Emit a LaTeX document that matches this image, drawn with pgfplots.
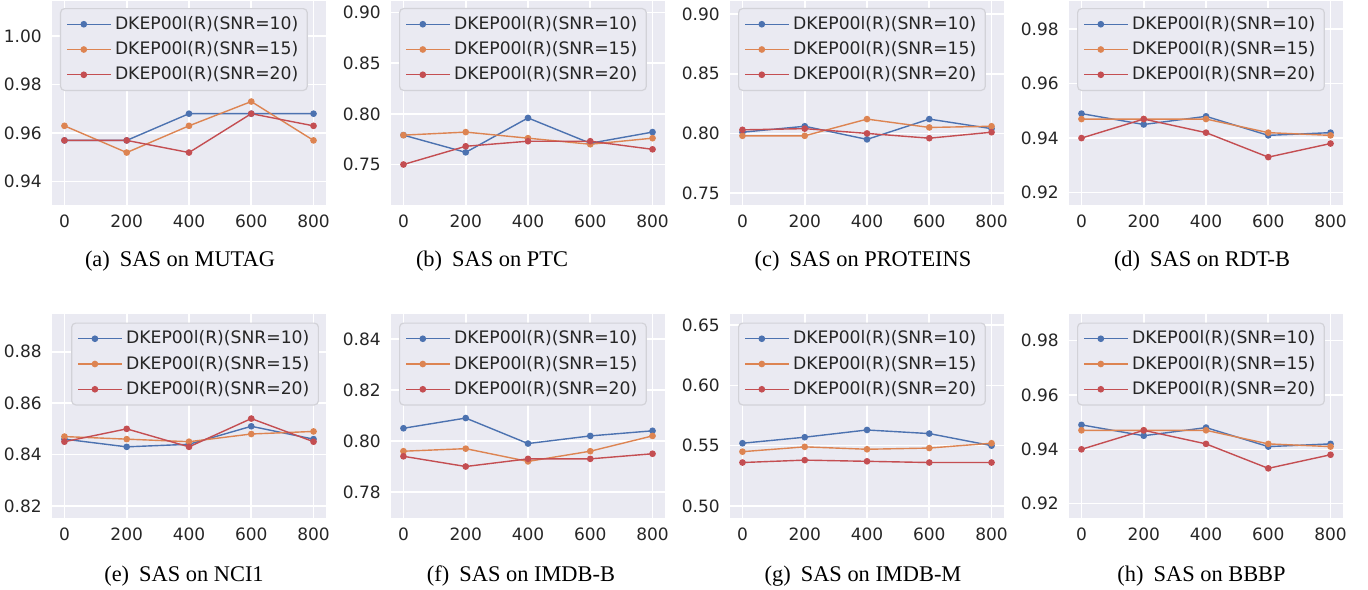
\documentclass[border=0pt]{standalone}
\usepackage{fontspec}
\setmainfont{Liberation Serif}
\newfontfamily\dejavu{DejaVu Sans}
\usepackage{pgfplots}
\pgfplotsset{compat=1.18}
\definecolor{bgc}{HTML}{EAEAF2}
\definecolor{tkc}{HTML}{262626}
\definecolor{lgc}{HTML}{D2D2D8}
\definecolor{sblue}{HTML}{4C72B0}
\definecolor{sorange}{HTML}{DD8452}
\definecolor{sred}{HTML}{C44E52}
\pgfplotsset{
  sas/.style={
    scale only axis, width=137pt, height=102pt,
    xmin=-40, xmax=840, xtick={0,200,400,600,800},
    axis background/.style={fill=bgc},
    grid=major, major grid style={white, line width=0.8pt},
    axis line style={draw=none}, major tick length=0pt,
    tick label style={font=\dejavu\fontsize{8.5}{10}\selectfont, text=tkc},
    /pgf/number format/assume math mode=true,
    yticklabel style={/pgf/number format/.cd, fixed, fixed zerofill, precision=2, /tikz/.cd, xshift=-1.6pt},
    xticklabel style={yshift=-1.6pt},
    legend cell align=left,
    legend style={draw=lgc, fill=bgc, rounded corners=2pt, line width=0.6pt,
      font=\dejavu\fontsize{8.6}{10}\selectfont, text=tkc,
      inner xsep=3pt, inner ysep=3pt, row sep=3pt,
      nodes={inner xsep=1.5pt, inner ysep=0.8pt}},
    legend image code/.code={
      \draw[mark repeat=2,mark phase=2,##1] plot coordinates {(0pt,0pt) (8.25pt,0pt) (16.5pt,0pt)};
      \path (0pt,0pt) -- (22pt,0pt);},
    every axis plot/.append style={line width=0.7pt, mark=*, mark size=1.3pt},
    legend style={at={(0,1)}, anchor=north west, xshift=4pt, yshift=-3.5pt},
  },
  sb/.style={color=sblue, mark options={fill=sblue, draw=sblue}},
  so/.style={color=sorange, mark options={fill=sorange, draw=sorange}},
  sr/.style={color=sred, mark options={fill=sred, draw=sred}},
}
\newcommand{\leg}{\legend{DKEP00l(R)(SNR=10),DKEP00l(R)(SNR=15),DKEP00l(R)(SNR=20)}}
\newcommand{\subcap}[3]{\node[anchor=base, font=\fontsize{11.2}{13}\selectfont, text=black] at (#1*0.5pt, #2*0.5pt) {#3};}
\begin{document}
\begin{tikzpicture}
\useasboundingbox (0,0) rectangle (684pt,294.5pt);
% (a) MUTAG
\begin{axis}[sas, at={(26pt,192pt)}, anchor=south west, ymin=0.9304, ymax=1.0144, ytick={0.94,0.96,0.98,1.00}]
\addplot[sb] coordinates {(0,0.957) (200,0.957) (400,0.968) (600,0.968) (800,0.968)};
\addplot[so] coordinates {(0,0.963) (200,0.952) (400,0.963) (600,0.973) (800,0.957)};
\addplot[sr] coordinates {(0,0.957) (200,0.957) (400,0.952) (600,0.968) (800,0.963)};
\leg
\end{axis}
% (b) PTC
\begin{axis}[sas, at={(195.5pt,192pt)}, anchor=south west, ymin=0.71, ymax=0.9115, ytick={0.75,0.80,0.85,0.90}]
\addplot[sb] coordinates {(0,0.779) (200,0.762) (400,0.796) (600,0.771) (800,0.782)};
\addplot[so] coordinates {(0,0.779) (200,0.782) (400,0.776) (600,0.770) (800,0.776)};
\addplot[sr] coordinates {(0,0.750) (200,0.768) (400,0.773) (600,0.773) (800,0.765)};
\leg
\end{axis}
% (c) PROTEINS
\begin{axis}[sas, at={(365pt,192pt)}, anchor=south west, ymin=0.740, ymax=0.911, ytick={0.75,0.80,0.85,0.90}]
\addplot[sb] coordinates {(0,0.801) (200,0.806) (400,0.795) (600,0.812) (800,0.804)};
\addplot[so] coordinates {(0,0.798) (200,0.798) (400,0.812) (600,0.805) (800,0.806)};
\addplot[sr] coordinates {(0,0.803) (200,0.804) (400,0.800) (600,0.796) (800,0.801)};
\leg
\end{axis}
% (d) RDT-B
\begin{axis}[sas, at={(534.5pt,192pt)}, anchor=south west, ymin=0.9154, ymax=0.9904, ytick={0.92,0.94,0.96,0.98}]
\addplot[sb] coordinates {(0,0.949) (200,0.945) (400,0.948) (600,0.941) (800,0.942)};
\addplot[so] coordinates {(0,0.947) (200,0.947) (400,0.947) (600,0.942) (800,0.941)};
\addplot[sr] coordinates {(0,0.940) (200,0.947) (400,0.942) (600,0.933) (800,0.938)};
\leg
\end{axis}
% (e) NCI1
\begin{axis}[sas, at={(26pt,35.75pt)}, anchor=south west, ymin=0.8155, ymax=0.8949, ytick={0.82,0.84,0.86,0.88},
  legend style={at={(1,1)}, anchor=north east, xshift=-7.5pt, yshift=-1pt}]
\addplot[sb] coordinates {(0,0.846) (200,0.843) (400,0.844) (600,0.851) (800,0.846)};
\addplot[so] coordinates {(0,0.847) (200,0.846) (400,0.845) (600,0.848) (800,0.849)};
\addplot[sr] coordinates {(0,0.845) (200,0.850) (400,0.843) (600,0.854) (800,0.845)};
\leg
\end{axis}
% (f) IMDB-B
\begin{axis}[sas, at={(195.5pt,35.75pt)}, anchor=south west, ymin=0.770, ymax=0.850, ytick={0.78,0.80,0.82,0.84},
  legend style={yshift=-1pt}]
\addplot[sb] coordinates {(0,0.805) (200,0.809) (400,0.799) (600,0.802) (800,0.804)};
\addplot[so] coordinates {(0,0.796) (200,0.797) (400,0.792) (600,0.796) (800,0.802)};
\addplot[sr] coordinates {(0,0.794) (200,0.790) (400,0.793) (600,0.793) (800,0.795)};
\leg
\end{axis}
% (g) IMDB-M
\begin{axis}[sas, at={(365pt,35.75pt)}, anchor=south west, ymin=0.4904, ymax=0.6596, ytick={0.50,0.55,0.60,0.65},
  legend style={yshift=-1pt}]
\addplot[sb] coordinates {(0,0.552) (200,0.557) (400,0.563) (600,0.560) (800,0.550)};
\addplot[so] coordinates {(0,0.545) (200,0.549) (400,0.547) (600,0.548) (800,0.552)};
\addplot[sr] coordinates {(0,0.536) (200,0.538) (400,0.537) (600,0.536) (800,0.536)};
\leg
\end{axis}
% (h) BBBP
\begin{axis}[sas, at={(534.5pt,35.75pt)}, anchor=south west, ymin=0.9149, ymax=0.9900, ytick={0.92,0.94,0.96,0.98},
  legend style={yshift=-1pt}]
\addplot[sb] coordinates {(0,0.949) (200,0.945) (400,0.948) (600,0.941) (800,0.942)};
\addplot[so] coordinates {(0,0.947) (200,0.947) (400,0.947) (600,0.942) (800,0.941)};
\addplot[sr] coordinates {(0,0.940) (200,0.947) (400,0.942) (600,0.933) (800,0.938)};
\leg
\end{axis}
\subcap{180}{322}{(a)\hspace{0.45em}SAS on MUTAG}
\subcap{492}{322}{(b)\hspace{0.45em}SAS on PTC}
\subcap{863}{322}{(c)\hspace{0.45em}SAS on PROTEINS}
\subcap{1202}{322}{(d)\hspace{0.45em}SAS on RDT-B}
\subcap{184}{8}{(e)\hspace{0.45em}SAS on NCI1}
\subcap{521}{8}{(f)\hspace{0.45em}SAS on IMDB-B}
\subcap{863}{8}{(g)\hspace{0.45em}SAS on IMDB-M}
\subcap{1201.5}{8}{(h)\hspace{0.45em}SAS on BBBP}
\end{tikzpicture}
\end{document}
